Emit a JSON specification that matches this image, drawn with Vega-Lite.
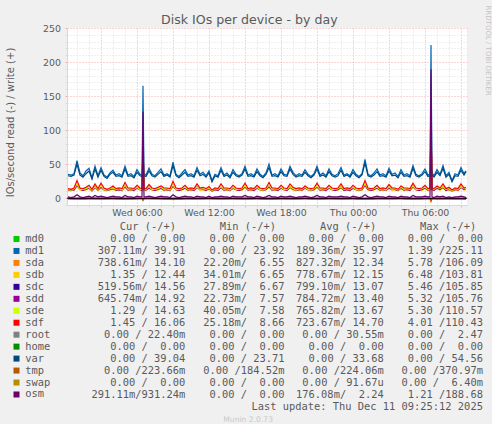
{
  "$schema": "https://vega.github.io/schema/vega-lite/v6.json",
  "description": "Munin disk IOs per device - by day",
  "background": "#f0f0f0",
  "padding": {"left": 5, "top": 5, "right": 0, "bottom": 0},
  "config": {"view": {"stroke": null}, "font": "DejaVu Sans", "axis": {"titleFontWeight": "normal"}},
  "datasets": {
    "wr": [
      {"t":"2025-12-10T00:15Z","md1":35,"var":33,"sda":12,"sdb":11,"sdc":13,"sdd":12,"sde":13,"sdf":14,"osm":2},
      {"t":"2025-12-10T00:30Z","md1":34,"var":32,"sda":11,"sdb":11,"sdc":12,"sdd":13,"sde":12,"sdf":13,"osm":1},
      {"t":"2025-12-10T00:45Z","md1":36,"var":34,"sda":12,"sdb":12,"sdc":13,"sdd":12,"sde":14,"sdf":15,"osm":2},
      {"t":"2025-12-10T01:00Z","md1":55,"var":50,"sda":18,"sdb":17,"sdc":20,"sdd":19,"sde":21,"sdf":26,"osm":5},
      {"t":"2025-12-10T01:15Z","md1":37,"var":34,"sda":13,"sdb":12,"sdc":13,"sdd":14,"sde":13,"sdf":15,"osm":2},
      {"t":"2025-12-10T01:30Z","md1":33,"var":31,"sda":12,"sdb":11,"sdc":12,"sdd":12,"sde":13,"sdf":14,"osm":1},
      {"t":"2025-12-10T01:45Z","md1":40,"var":36,"sda":13,"sdb":12,"sdc":14,"sdd":13,"sde":14,"sdf":16,"osm":2},
      {"t":"2025-12-10T02:00Z","md1":44,"var":40,"sda":15,"sdb":14,"sdc":16,"sdd":15,"sde":16,"sdf":19,"osm":3},
      {"t":"2025-12-10T02:15Z","md1":30,"var":28,"sda":11,"sdb":10,"sdc":12,"sdd":11,"sde":12,"sdf":13,"osm":1},
      {"t":"2025-12-10T02:30Z","md1":47,"var":43,"sda":16,"sdb":15,"sdc":17,"sdd":16,"sde":17,"sdf":21,"osm":4},
      {"t":"2025-12-10T02:45Z","md1":33,"var":31,"sda":12,"sdb":11,"sdc":13,"sdd":12,"sde":13,"sdf":14,"osm":2},
      {"t":"2025-12-10T03:00Z","md1":45,"var":41,"sda":16,"sdb":15,"sdc":17,"sdd":16,"sde":18,"sdf":22,"osm":3},
      {"t":"2025-12-10T03:15Z","md1":34,"var":32,"sda":12,"sdb":11,"sdc":13,"sdd":13,"sde":13,"sdf":15,"osm":2},
      {"t":"2025-12-10T03:30Z","md1":31,"var":29,"sda":11,"sdb":11,"sdc":12,"sdd":12,"sde":12,"sdf":13,"osm":1},
      {"t":"2025-12-10T03:45Z","md1":37,"var":35,"sda":13,"sdb":12,"sdc":13,"sdd":13,"sde":14,"sdf":15,"osm":2},
      {"t":"2025-12-10T04:00Z","md1":41,"var":38,"sda":14,"sdb":13,"sdc":15,"sdd":14,"sde":15,"sdf":18,"osm":3},
      {"t":"2025-12-10T04:15Z","md1":34,"var":32,"sda":12,"sdb":11,"sdc":12,"sdd":13,"sde":13,"sdf":14,"osm":2},
      {"t":"2025-12-10T04:30Z","md1":36,"var":33,"sda":12,"sdb":12,"sdc":13,"sdd":12,"sde":14,"sdf":15,"osm":2},
      {"t":"2025-12-10T04:45Z","md1":33,"var":31,"sda":11,"sdb":11,"sdc":12,"sdd":12,"sde":12,"sdf":14,"osm":1},
      {"t":"2025-12-10T05:00Z","md1":47,"var":43,"sda":17,"sdb":16,"sdc":18,"sdd":17,"sde":19,"sdf":23,"osm":4},
      {"t":"2025-12-10T05:15Z","md1":34,"var":32,"sda":12,"sdb":11,"sdc":13,"sdd":12,"sde":13,"sdf":15,"osm":2},
      {"t":"2025-12-10T05:30Z","md1":36,"var":33,"sda":13,"sdb":12,"sdc":13,"sdd":13,"sde":14,"sdf":15,"osm":2},
      {"t":"2025-12-10T05:45Z","md1":32,"var":30,"sda":11,"sdb":11,"sdc":12,"sdd":12,"sde":13,"sdf":14,"osm":1},
      {"t":"2025-12-10T06:00Z","md1":42,"var":38,"sda":15,"sdb":14,"sdc":16,"sdd":15,"sde":16,"sdf":19,"osm":3},
      {"t":"2025-12-10T06:15Z","md1":35,"var":33,"sda":12,"sdb":12,"sdc":13,"sdd":13,"sde":13,"sdf":15,"osm":2},
      {"t":"2025-12-10T06:25Z","md1":34,"var":32,"sda":12,"sdb":11,"sdc":12,"sdd":12,"sde":13,"sdf":14,"osm":2},
      {"t":"2025-12-10T06:30Z","md1":165,"var":48,"sda":72,"sdb":66,"sdc":75,"sdd":76,"sde":74,"sdf":81,"osm":127},
      {"t":"2025-12-10T06:35Z","md1":36,"var":33,"sda":13,"sdb":12,"sdc":13,"sdd":13,"sde":14,"sdf":15,"osm":2},
      {"t":"2025-12-10T06:45Z","md1":34,"var":32,"sda":12,"sdb":11,"sdc":13,"sdd":12,"sde":13,"sdf":14,"osm":2},
      {"t":"2025-12-10T07:00Z","md1":44,"var":40,"sda":15,"sdb":14,"sdc":16,"sdd":15,"sde":17,"sdf":20,"osm":3},
      {"t":"2025-12-10T07:15Z","md1":35,"var":33,"sda":12,"sdb":12,"sdc":13,"sdd":13,"sde":13,"sdf":15,"osm":2},
      {"t":"2025-12-10T07:30Z","md1":33,"var":31,"sda":12,"sdb":11,"sdc":12,"sdd":12,"sde":13,"sdf":14,"osm":1},
      {"t":"2025-12-10T07:45Z","md1":38,"var":35,"sda":13,"sdb":12,"sdc":14,"sdd":13,"sde":14,"sdf":16,"osm":2},
      {"t":"2025-12-10T08:00Z","md1":43,"var":39,"sda":14,"sdb":14,"sdc":15,"sdd":15,"sde":16,"sdf":18,"osm":3},
      {"t":"2025-12-10T08:15Z","md1":34,"var":32,"sda":12,"sdb":11,"sdc":13,"sdd":12,"sde":13,"sdf":15,"osm":2},
      {"t":"2025-12-10T08:30Z","md1":36,"var":34,"sda":12,"sdb":12,"sdc":13,"sdd":13,"sde":14,"sdf":15,"osm":2},
      {"t":"2025-12-10T08:45Z","md1":33,"var":31,"sda":11,"sdb":11,"sdc":12,"sdd":12,"sde":12,"sdf":14,"osm":1},
      {"t":"2025-12-10T09:00Z","md1":53,"var":48,"sda":18,"sdb":17,"sdc":19,"sdd":18,"sde":20,"sdf":25,"osm":5},
      {"t":"2025-12-10T09:15Z","md1":35,"var":33,"sda":12,"sdb":12,"sdc":13,"sdd":13,"sde":13,"sdf":15,"osm":2},
      {"t":"2025-12-10T09:30Z","md1":32,"var":30,"sda":11,"sdb":11,"sdc":12,"sdd":12,"sde":13,"sdf":14,"osm":1},
      {"t":"2025-12-10T09:45Z","md1":37,"var":34,"sda":13,"sdb":12,"sdc":13,"sdd":13,"sde":14,"sdf":15,"osm":2},
      {"t":"2025-12-10T10:00Z","md1":42,"var":38,"sda":15,"sdb":14,"sdc":15,"sdd":15,"sde":16,"sdf":19,"osm":3},
      {"t":"2025-12-10T10:15Z","md1":34,"var":32,"sda":12,"sdb":11,"sdc":13,"sdd":12,"sde":13,"sdf":14,"osm":2},
      {"t":"2025-12-10T10:30Z","md1":36,"var":33,"sda":12,"sdb":12,"sdc":13,"sdd":13,"sde":14,"sdf":15,"osm":2},
      {"t":"2025-12-10T10:45Z","md1":33,"var":31,"sda":11,"sdb":11,"sdc":12,"sdd":12,"sde":13,"sdf":14,"osm":1},
      {"t":"2025-12-10T11:00Z","md1":45,"var":41,"sda":16,"sdb":15,"sdc":17,"sdd":16,"sde":17,"sdf":21,"osm":3},
      {"t":"2025-12-10T11:15Z","md1":35,"var":33,"sda":12,"sdb":12,"sdc":13,"sdd":13,"sde":13,"sdf":15,"osm":2},
      {"t":"2025-12-10T11:30Z","md1":38,"var":35,"sda":13,"sdb":12,"sdc":14,"sdd":13,"sde":14,"sdf":16,"osm":2},
      {"t":"2025-12-10T11:45Z","md1":33,"var":31,"sda":12,"sdb":11,"sdc":12,"sdd":12,"sde":13,"sdf":14,"osm":1},
      {"t":"2025-12-10T12:00Z","md1":40,"var":37,"sda":14,"sdb":13,"sdc":15,"sdd":14,"sde":15,"sdf":17,"osm":3},
      {"t":"2025-12-10T12:15Z","md1":26,"var":24,"sda":10,"sdb":10,"sdc":11,"sdd":11,"sde":11,"sdf":12,"osm":1},
      {"t":"2025-12-10T12:30Z","md1":35,"var":33,"sda":12,"sdb":12,"sdc":13,"sdd":13,"sde":14,"sdf":15,"osm":2},
      {"t":"2025-12-10T12:45Z","md1":33,"var":31,"sda":12,"sdb":11,"sdc":12,"sdd":12,"sde":13,"sdf":14,"osm":2},
      {"t":"2025-12-10T13:00Z","md1":45,"var":41,"sda":16,"sdb":15,"sdc":16,"sdd":16,"sde":17,"sdf":21,"osm":3},
      {"t":"2025-12-10T13:15Z","md1":34,"var":32,"sda":12,"sdb":11,"sdc":13,"sdd":12,"sde":13,"sdf":15,"osm":2},
      {"t":"2025-12-10T13:30Z","md1":37,"var":34,"sda":13,"sdb":12,"sdc":13,"sdd":13,"sde":14,"sdf":15,"osm":2},
      {"t":"2025-12-10T13:45Z","md1":32,"var":30,"sda":11,"sdb":11,"sdc":12,"sdd":12,"sde":12,"sdf":14,"osm":1},
      {"t":"2025-12-10T14:00Z","md1":42,"var":38,"sda":15,"sdb":14,"sdc":15,"sdd":15,"sde":16,"sdf":19,"osm":3},
      {"t":"2025-12-10T14:15Z","md1":35,"var":33,"sda":12,"sdb":12,"sdc":13,"sdd":13,"sde":13,"sdf":15,"osm":2},
      {"t":"2025-12-10T14:30Z","md1":33,"var":31,"sda":12,"sdb":11,"sdc":12,"sdd":12,"sde":13,"sdf":14,"osm":2},
      {"t":"2025-12-10T14:45Z","md1":36,"var":34,"sda":12,"sdb":12,"sdc":13,"sdd":13,"sde":14,"sdf":15,"osm":2},
      {"t":"2025-12-10T15:00Z","md1":47,"var":43,"sda":17,"sdb":16,"sdc":17,"sdd":17,"sde":18,"sdf":22,"osm":4},
      {"t":"2025-12-10T15:15Z","md1":34,"var":32,"sda":12,"sdb":11,"sdc":13,"sdd":12,"sde":13,"sdf":14,"osm":2},
      {"t":"2025-12-10T15:30Z","md1":36,"var":33,"sda":13,"sdb":12,"sdc":13,"sdd":13,"sde":14,"sdf":15,"osm":2},
      {"t":"2025-12-10T15:45Z","md1":33,"var":31,"sda":11,"sdb":11,"sdc":12,"sdd":12,"sde":13,"sdf":14,"osm":1},
      {"t":"2025-12-10T16:00Z","md1":43,"var":39,"sda":15,"sdb":14,"sdc":16,"sdd":15,"sde":16,"sdf":19,"osm":3},
      {"t":"2025-12-10T16:15Z","md1":35,"var":33,"sda":12,"sdb":12,"sdc":13,"sdd":13,"sde":13,"sdf":15,"osm":2},
      {"t":"2025-12-10T16:30Z","md1":32,"var":30,"sda":11,"sdb":11,"sdc":12,"sdd":12,"sde":12,"sdf":14,"osm":1},
      {"t":"2025-12-10T16:45Z","md1":37,"var":35,"sda":13,"sdb":12,"sdc":13,"sdd":13,"sde":14,"sdf":15,"osm":2},
      {"t":"2025-12-10T17:00Z","md1":50,"var":45,"sda":17,"sdb":16,"sdc":18,"sdd":17,"sde":19,"sdf":23,"osm":4},
      {"t":"2025-12-10T17:15Z","md1":34,"var":32,"sda":12,"sdb":11,"sdc":13,"sdd":12,"sde":13,"sdf":15,"osm":2},
      {"t":"2025-12-10T17:30Z","md1":36,"var":33,"sda":12,"sdb":12,"sdc":13,"sdd":13,"sde":14,"sdf":15,"osm":2},
      {"t":"2025-12-10T17:45Z","md1":33,"var":31,"sda":12,"sdb":11,"sdc":12,"sdd":12,"sde":13,"sdf":14,"osm":1},
      {"t":"2025-12-10T18:00Z","md1":43,"var":39,"sda":15,"sdb":14,"sdc":15,"sdd":15,"sde":16,"sdf":19,"osm":3},
      {"t":"2025-12-10T18:15Z","md1":35,"var":33,"sda":12,"sdb":12,"sdc":13,"sdd":13,"sde":13,"sdf":15,"osm":2},
      {"t":"2025-12-10T18:30Z","md1":34,"var":32,"sda":12,"sdb":11,"sdc":12,"sdd":12,"sde":13,"sdf":14,"osm":2},
      {"t":"2025-12-10T18:45Z","md1":47,"var":43,"sda":16,"sdb":15,"sdc":17,"sdd":16,"sde":17,"sdf":21,"osm":3},
      {"t":"2025-12-10T19:00Z","md1":38,"var":35,"sda":13,"sdb":12,"sdc":14,"sdd":13,"sde":14,"sdf":16,"osm":2},
      {"t":"2025-12-10T19:15Z","md1":33,"var":31,"sda":11,"sdb":11,"sdc":12,"sdd":12,"sde":12,"sdf":14,"osm":1},
      {"t":"2025-12-10T19:30Z","md1":36,"var":33,"sda":12,"sdb":12,"sdc":13,"sdd":13,"sde":14,"sdf":15,"osm":2},
      {"t":"2025-12-10T19:45Z","md1":34,"var":32,"sda":12,"sdb":11,"sdc":13,"sdd":12,"sde":13,"sdf":14,"osm":2},
      {"t":"2025-12-10T20:00Z","md1":42,"var":38,"sda":15,"sdb":14,"sdc":15,"sdd":15,"sde":16,"sdf":18,"osm":3},
      {"t":"2025-12-10T20:15Z","md1":35,"var":33,"sda":12,"sdb":12,"sdc":13,"sdd":13,"sde":13,"sdf":15,"osm":2},
      {"t":"2025-12-10T20:30Z","md1":32,"var":30,"sda":11,"sdb":11,"sdc":12,"sdd":12,"sde":12,"sdf":14,"osm":1},
      {"t":"2025-12-10T20:45Z","md1":36,"var":34,"sda":12,"sdb":12,"sdc":13,"sdd":13,"sde":14,"sdf":15,"osm":2},
      {"t":"2025-12-10T21:00Z","md1":47,"var":43,"sda":17,"sdb":16,"sdc":17,"sdd":17,"sde":18,"sdf":22,"osm":4},
      {"t":"2025-12-10T21:15Z","md1":34,"var":32,"sda":12,"sdb":11,"sdc":13,"sdd":12,"sde":13,"sdf":15,"osm":2},
      {"t":"2025-12-10T21:30Z","md1":37,"var":34,"sda":13,"sdb":12,"sdc":13,"sdd":13,"sde":14,"sdf":15,"osm":2},
      {"t":"2025-12-10T21:45Z","md1":33,"var":31,"sda":11,"sdb":11,"sdc":12,"sdd":12,"sde":13,"sdf":14,"osm":1},
      {"t":"2025-12-10T22:00Z","md1":43,"var":39,"sda":15,"sdb":14,"sdc":16,"sdd":15,"sde":16,"sdf":19,"osm":3},
      {"t":"2025-12-10T22:15Z","md1":35,"var":33,"sda":12,"sdb":12,"sdc":13,"sdd":13,"sde":13,"sdf":15,"osm":2},
      {"t":"2025-12-10T22:30Z","md1":33,"var":31,"sda":12,"sdb":11,"sdc":12,"sdd":12,"sde":13,"sdf":14,"osm":2},
      {"t":"2025-12-10T22:45Z","md1":36,"var":33,"sda":12,"sdb":12,"sdc":13,"sdd":13,"sde":14,"sdf":15,"osm":2},
      {"t":"2025-12-10T23:00Z","md1":45,"var":41,"sda":16,"sdb":15,"sdc":17,"sdd":16,"sde":17,"sdf":21,"osm":3},
      {"t":"2025-12-10T23:15Z","md1":34,"var":32,"sda":12,"sdb":11,"sdc":12,"sdd":12,"sde":13,"sdf":14,"osm":2},
      {"t":"2025-12-10T23:30Z","md1":36,"var":34,"sda":13,"sdb":12,"sdc":13,"sdd":13,"sde":14,"sdf":15,"osm":2},
      {"t":"2025-12-10T23:45Z","md1":33,"var":31,"sda":11,"sdb":11,"sdc":12,"sdd":12,"sde":13,"sdf":14,"osm":1},
      {"t":"2025-12-11T00:00Z","md1":42,"var":38,"sda":15,"sdb":14,"sdc":15,"sdd":15,"sde":16,"sdf":19,"osm":3},
      {"t":"2025-12-11T00:15Z","md1":35,"var":33,"sda":12,"sdb":12,"sdc":13,"sdd":13,"sde":13,"sdf":15,"osm":2},
      {"t":"2025-12-11T00:30Z","md1":32,"var":30,"sda":11,"sdb":11,"sdc":12,"sdd":12,"sde":12,"sdf":14,"osm":1},
      {"t":"2025-12-11T00:45Z","md1":36,"var":34,"sda":12,"sdb":12,"sdc":13,"sdd":13,"sde":14,"sdf":15,"osm":2},
      {"t":"2025-12-11T01:00Z","md1":57,"var":52,"sda":19,"sdb":18,"sdc":20,"sdd":19,"sde":21,"sdf":26,"osm":5},
      {"t":"2025-12-11T01:15Z","md1":35,"var":33,"sda":12,"sdb":12,"sdc":13,"sdd":13,"sde":14,"sdf":15,"osm":2},
      {"t":"2025-12-11T01:30Z","md1":33,"var":31,"sda":12,"sdb":11,"sdc":12,"sdd":12,"sde":13,"sdf":14,"osm":1},
      {"t":"2025-12-11T01:45Z","md1":37,"var":34,"sda":13,"sdb":12,"sdc":13,"sdd":13,"sde":14,"sdf":15,"osm":2},
      {"t":"2025-12-11T02:00Z","md1":43,"var":39,"sda":15,"sdb":14,"sdc":16,"sdd":15,"sde":16,"sdf":19,"osm":3},
      {"t":"2025-12-11T02:15Z","md1":34,"var":32,"sda":12,"sdb":11,"sdc":13,"sdd":12,"sde":13,"sdf":14,"osm":2},
      {"t":"2025-12-11T02:30Z","md1":36,"var":33,"sda":12,"sdb":12,"sdc":13,"sdd":13,"sde":14,"sdf":15,"osm":2},
      {"t":"2025-12-11T02:45Z","md1":33,"var":31,"sda":11,"sdb":11,"sdc":12,"sdd":12,"sde":12,"sdf":14,"osm":1},
      {"t":"2025-12-11T03:00Z","md1":44,"var":40,"sda":15,"sdb":14,"sdc":16,"sdd":15,"sde":17,"sdf":20,"osm":3},
      {"t":"2025-12-11T03:15Z","md1":35,"var":33,"sda":12,"sdb":12,"sdc":13,"sdd":13,"sde":13,"sdf":15,"osm":2},
      {"t":"2025-12-11T03:30Z","md1":37,"var":34,"sda":13,"sdb":12,"sdc":13,"sdd":13,"sde":14,"sdf":15,"osm":2},
      {"t":"2025-12-11T03:45Z","md1":32,"var":30,"sda":11,"sdb":11,"sdc":12,"sdd":12,"sde":12,"sdf":13,"osm":1},
      {"t":"2025-12-11T04:00Z","md1":42,"var":38,"sda":14,"sdb":14,"sdc":15,"sdd":15,"sde":16,"sdf":18,"osm":3},
      {"t":"2025-12-11T04:15Z","md1":34,"var":32,"sda":12,"sdb":11,"sdc":13,"sdd":12,"sde":13,"sdf":15,"osm":2},
      {"t":"2025-12-11T04:30Z","md1":36,"var":33,"sda":12,"sdb":12,"sdc":13,"sdd":13,"sde":14,"sdf":15,"osm":2},
      {"t":"2025-12-11T04:45Z","md1":33,"var":31,"sda":12,"sdb":11,"sdc":12,"sdd":12,"sde":13,"sdf":14,"osm":1},
      {"t":"2025-12-11T05:00Z","md1":48,"var":44,"sda":17,"sdb":16,"sdc":18,"sdd":17,"sde":18,"sdf":22,"osm":4},
      {"t":"2025-12-11T05:15Z","md1":35,"var":33,"sda":12,"sdb":12,"sdc":13,"sdd":13,"sde":13,"sdf":15,"osm":2},
      {"t":"2025-12-11T05:30Z","md1":33,"var":31,"sda":12,"sdb":11,"sdc":12,"sdd":12,"sde":13,"sdf":14,"osm":2},
      {"t":"2025-12-11T05:45Z","md1":36,"var":34,"sda":12,"sdb":12,"sdc":13,"sdd":13,"sde":14,"sdf":15,"osm":2},
      {"t":"2025-12-11T06:00Z","md1":43,"var":39,"sda":15,"sdb":14,"sdc":16,"sdd":15,"sde":16,"sdf":19,"osm":3},
      {"t":"2025-12-11T06:15Z","md1":34,"var":32,"sda":12,"sdb":11,"sdc":13,"sdd":12,"sde":13,"sdf":14,"osm":2},
      {"t":"2025-12-11T06:25Z","md1":35,"var":33,"sda":12,"sdb":12,"sdc":13,"sdd":13,"sde":13,"sdf":15,"osm":2},
      {"t":"2025-12-11T06:30Z","md1":225,"var":54,"sda":106,"sdb":104,"sdc":106,"sdd":106,"sde":110,"sdf":110,"osm":189},
      {"t":"2025-12-11T06:35Z","md1":37,"var":34,"sda":13,"sdb":12,"sdc":13,"sdd":13,"sde":14,"sdf":15,"osm":2},
      {"t":"2025-12-11T06:45Z","md1":33,"var":31,"sda":12,"sdb":11,"sdc":12,"sdd":12,"sde":13,"sdf":14,"osm":1},
      {"t":"2025-12-11T07:00Z","md1":42,"var":38,"sda":15,"sdb":14,"sdc":15,"sdd":15,"sde":16,"sdf":18,"osm":3},
      {"t":"2025-12-11T07:15Z","md1":35,"var":33,"sda":12,"sdb":12,"sdc":13,"sdd":13,"sde":14,"sdf":15,"osm":2},
      {"t":"2025-12-11T07:30Z","md1":48,"var":44,"sda":16,"sdb":15,"sdc":17,"sdd":16,"sde":17,"sdf":21,"osm":3},
      {"t":"2025-12-11T07:45Z","md1":33,"var":31,"sda":11,"sdb":11,"sdc":12,"sdd":12,"sde":13,"sdf":14,"osm":1},
      {"t":"2025-12-11T08:00Z","md1":38,"var":35,"sda":13,"sdb":12,"sdc":14,"sdd":13,"sde":14,"sdf":16,"osm":2},
      {"t":"2025-12-11T08:15Z","md1":26,"var":24,"sda":10,"sdb":10,"sdc":11,"sdd":11,"sde":11,"sdf":12,"osm":1},
      {"t":"2025-12-11T08:30Z","md1":36,"var":33,"sda":12,"sdb":12,"sdc":13,"sdd":13,"sde":14,"sdf":15,"osm":2},
      {"t":"2025-12-11T08:45Z","md1":34,"var":32,"sda":12,"sdb":11,"sdc":13,"sdd":12,"sde":13,"sdf":14,"osm":2},
      {"t":"2025-12-11T09:00Z","md1":45,"var":41,"sda":16,"sdb":15,"sdc":17,"sdd":16,"sde":17,"sdf":21,"osm":3},
      {"t":"2025-12-11T09:15Z","md1":36,"var":34,"sda":13,"sdb":12,"sdc":13,"sdd":13,"sde":14,"sdf":15,"osm":2},
      {"t":"2025-12-11T09:25Z","md1":40,"var":39,"sda":14.1,"sdb":12.4,"sdc":14.6,"sdd":14.9,"sde":14.6,"sdf":16.1,"osm":0.9}
    ],
    "rd": [
      {"t":"2025-12-10T00:15Z","md1":-0.2,"sda":-0.7,"sdb":-0.8,"sdc":-0.6,"sdd":-0.7,"sde":-0.8,"sdf":-0.6,"osm":-0.2},
      {"t":"2025-12-10T01:00Z","md1":-0.3,"sda":-1.5,"sdb":-1.8,"sdc":-1.4,"sdd":-1.3,"sde":-1.6,"sdf":-1.2,"osm":-0.3},
      {"t":"2025-12-10T02:00Z","md1":-0.1,"sda":-0.8,"sdb":-0.9,"sdc":-0.7,"sdd":-0.8,"sde":-0.7,"sdf":-0.7,"osm":-0.1},
      {"t":"2025-12-10T03:00Z","md1":-0.2,"sda":-1.1,"sdb":-1.2,"sdc":-1.0,"sdd":-0.9,"sde":-1.0,"sdf":-0.8,"osm":-0.2},
      {"t":"2025-12-10T04:00Z","md1":-0.2,"sda":-0.7,"sdb":-0.6,"sdc":-0.8,"sdd":-0.7,"sde":-0.6,"sdf":-0.6,"osm":-0.1},
      {"t":"2025-12-10T05:00Z","md1":-0.3,"sda":-1.4,"sdb":-1.6,"sdc":-1.2,"sdd":-1.3,"sde":-1.2,"sdf":-1.0,"osm":-0.3},
      {"t":"2025-12-10T06:00Z","md1":-0.2,"sda":-0.8,"sdb":-0.9,"sdc":-0.8,"sdd":-0.7,"sde":-0.8,"sdf":-0.7,"osm":-0.2},
      {"t":"2025-12-10T06:25Z","md1":-0.2,"sda":-0.7,"sdb":-0.8,"sdc":-0.7,"sdd":-0.7,"sde":-0.7,"sdf":-0.6,"osm":-0.2},
      {"t":"2025-12-10T06:30Z","md1":-1.0,"sda":-4.2,"sdb":-4.6,"sdc":-3.6,"sdd":-3.4,"sde":-3.8,"sdf":-3.0,"osm":-0.8},
      {"t":"2025-12-10T06:35Z","md1":-0.2,"sda":-0.8,"sdb":-0.8,"sdc":-0.7,"sdd":-0.8,"sde":-0.7,"sdf":-0.6,"osm":-0.2},
      {"t":"2025-12-10T07:00Z","md1":-0.1,"sda":-0.7,"sdb":-0.8,"sdc":-0.7,"sdd":-0.6,"sde":-0.7,"sdf":-0.6,"osm":-0.1},
      {"t":"2025-12-10T08:00Z","md1":-0.2,"sda":-0.9,"sdb":-1.0,"sdc":-0.8,"sdd":-0.9,"sde":-0.8,"sdf":-0.7,"osm":-0.2},
      {"t":"2025-12-10T09:00Z","md1":-0.4,"sda":-2.0,"sdb":-2.3,"sdc":-1.8,"sdd":-1.9,"sde":-1.7,"sdf":-1.6,"osm":-0.4},
      {"t":"2025-12-10T10:00Z","md1":-0.2,"sda":-0.8,"sdb":-0.7,"sdc":-0.8,"sdd":-0.8,"sde":-0.7,"sdf":-0.7,"osm":-0.2},
      {"t":"2025-12-10T11:00Z","md1":-0.2,"sda":-1.0,"sdb":-1.1,"sdc":-0.9,"sdd":-1.0,"sde":-1.0,"sdf":-0.8,"osm":-0.2},
      {"t":"2025-12-10T12:00Z","md1":-0.1,"sda":-0.7,"sdb":-0.8,"sdc":-0.7,"sdd":-0.7,"sde":-0.6,"sdf":-0.6,"osm":-0.1},
      {"t":"2025-12-10T13:00Z","md1":-0.2,"sda":-1.1,"sdb":-1.2,"sdc":-1.0,"sdd":-1.0,"sde":-1.1,"sdf":-0.9,"osm":-0.2},
      {"t":"2025-12-10T14:00Z","md1":-0.2,"sda":-0.8,"sdb":-0.8,"sdc":-0.8,"sdd":-0.7,"sde":-0.8,"sdf":-0.7,"osm":-0.2},
      {"t":"2025-12-10T15:00Z","md1":-0.3,"sda":-1.3,"sdb":-1.5,"sdc":-1.2,"sdd":-1.1,"sde":-1.2,"sdf":-1.0,"osm":-0.2},
      {"t":"2025-12-10T16:00Z","md1":-0.2,"sda":-0.7,"sdb":-0.8,"sdc":-0.7,"sdd":-0.8,"sde":-0.7,"sdf":-0.6,"osm":-0.1},
      {"t":"2025-12-10T17:00Z","md1":-0.3,"sda":-1.6,"sdb":-1.7,"sdc":-1.4,"sdd":-1.5,"sde":-1.3,"sdf":-1.2,"osm":-0.3},
      {"t":"2025-12-10T18:00Z","md1":-0.2,"sda":-0.8,"sdb":-0.9,"sdc":-0.8,"sdd":-0.8,"sde":-0.8,"sdf":-0.7,"osm":-0.2},
      {"t":"2025-12-10T19:00Z","md1":-0.2,"sda":-1.2,"sdb":-1.3,"sdc":-1.1,"sdd":-1.0,"sde":-1.1,"sdf":-0.9,"osm":-0.2},
      {"t":"2025-12-10T20:00Z","md1":-0.1,"sda":-0.7,"sdb":-0.7,"sdc":-0.7,"sdd":-0.7,"sde":-0.6,"sdf":-0.6,"osm":-0.1},
      {"t":"2025-12-10T21:00Z","md1":-0.3,"sda":-1.4,"sdb":-1.6,"sdc":-1.3,"sdd":-1.2,"sde":-1.3,"sdf":-1.1,"osm":-0.3},
      {"t":"2025-12-10T22:00Z","md1":-0.2,"sda":-0.8,"sdb":-0.9,"sdc":-0.8,"sdd":-0.7,"sde":-0.8,"sdf":-0.7,"osm":-0.2},
      {"t":"2025-12-10T23:00Z","md1":-0.2,"sda":-1.1,"sdb":-1.2,"sdc":-1.0,"sdd":-1.0,"sde":-1.0,"sdf":-0.9,"osm":-0.2},
      {"t":"2025-12-11T00:00Z","md1":-0.2,"sda":-0.8,"sdb":-0.8,"sdc":-0.7,"sdd":-0.8,"sde":-0.7,"sdf":-0.7,"osm":-0.2},
      {"t":"2025-12-11T01:00Z","md1":-0.4,"sda":-1.8,"sdb":-2.0,"sdc":-1.6,"sdd":-1.7,"sde":-1.5,"sdf":-1.4,"osm":-0.4},
      {"t":"2025-12-11T02:00Z","md1":-0.2,"sda":-0.8,"sdb":-0.9,"sdc":-0.8,"sdd":-0.8,"sde":-0.8,"sdf":-0.7,"osm":-0.2},
      {"t":"2025-12-11T03:00Z","md1":-0.2,"sda":-1.0,"sdb":-1.1,"sdc":-0.9,"sdd":-0.9,"sde":-1.0,"sdf":-0.8,"osm":-0.2},
      {"t":"2025-12-11T04:00Z","md1":-0.1,"sda":-0.7,"sdb":-0.8,"sdc":-0.7,"sdd":-0.7,"sde":-0.7,"sdf":-0.6,"osm":-0.1},
      {"t":"2025-12-11T05:00Z","md1":-0.3,"sda":-1.5,"sdb":-1.7,"sdc":-1.3,"sdd":-1.4,"sde":-1.3,"sdf":-1.1,"osm":-0.3},
      {"t":"2025-12-11T06:00Z","md1":-0.2,"sda":-0.8,"sdb":-0.9,"sdc":-0.8,"sdd":-0.8,"sde":-0.8,"sdf":-0.7,"osm":-0.2},
      {"t":"2025-12-11T06:25Z","md1":-0.2,"sda":-0.7,"sdb":-0.8,"sdc":-0.7,"sdd":-0.7,"sde":-0.7,"sdf":-0.6,"osm":-0.2},
      {"t":"2025-12-11T06:30Z","md1":-1.4,"sda":-5.8,"sdb":-6.5,"sdc":-5.5,"sdd":-5.3,"sde":-5.3,"sdf":-4.0,"osm":-1.2},
      {"t":"2025-12-11T06:35Z","md1":-0.2,"sda":-0.8,"sdb":-0.8,"sdc":-0.8,"sdd":-0.7,"sde":-0.8,"sdf":-0.7,"osm":-0.2},
      {"t":"2025-12-11T07:00Z","md1":-0.2,"sda":-1.1,"sdb":-1.2,"sdc":-1.0,"sdd":-1.0,"sde":-0.9,"sdf":-0.8,"osm":-0.2},
      {"t":"2025-12-11T08:00Z","md1":-0.2,"sda":-0.9,"sdb":-1.0,"sdc":-0.8,"sdd":-0.9,"sde":-0.8,"sdf":-0.7,"osm":-0.2},
      {"t":"2025-12-11T09:00Z","md1":-0.3,"sda":-1.3,"sdb":-1.4,"sdc":-1.2,"sdd":-1.1,"sde":-1.2,"sdf":-1.0,"osm":-0.3},
      {"t":"2025-12-11T09:25Z","md1":-0.3,"sda":-0.7,"sdb":-1.4,"sdc":-0.5,"sdd":-0.6,"sde":-1.3,"sdf":-1.5,"osm":-0.3}
    ],
    "zero": [{"v": 0}],
    "tbl": [
      {"dev":"md0","Cur":"\u00a0\u00a00.00\u00a0/\u00a0\u00a00.00\u00a0","Min":"\u00a0\u00a00.00\u00a0/\u00a0\u00a00.00\u00a0","Avg":"\u00a0\u00a00.00\u00a0/\u00a0\u00a00.00\u00a0","Max":"\u00a0\u00a00.00\u00a0/\u00a0\u00a00.00\u00a0"},
      {"dev":"md1","Cur":"307.11m/\u00a039.91\u00a0","Min":"\u00a0\u00a00.00\u00a0/\u00a023.92\u00a0","Avg":"189.36m/\u00a035.97\u00a0","Max":"\u00a0\u00a01.39\u00a0/225.11\u00a0"},
      {"dev":"sda","Cur":"738.61m/\u00a014.10\u00a0","Min":"\u00a022.20m/\u00a0\u00a06.55\u00a0","Avg":"827.32m/\u00a012.34\u00a0","Max":"\u00a0\u00a05.78\u00a0/106.09\u00a0"},
      {"dev":"sdb","Cur":"\u00a0\u00a01.35\u00a0/\u00a012.44\u00a0","Min":"\u00a034.01m/\u00a0\u00a06.65\u00a0","Avg":"778.67m/\u00a012.15\u00a0","Max":"\u00a0\u00a06.48\u00a0/103.81\u00a0"},
      {"dev":"sdc","Cur":"519.56m/\u00a014.56\u00a0","Min":"\u00a027.89m/\u00a0\u00a06.67\u00a0","Avg":"799.10m/\u00a013.07\u00a0","Max":"\u00a0\u00a05.46\u00a0/105.85\u00a0"},
      {"dev":"sdd","Cur":"645.74m/\u00a014.92\u00a0","Min":"\u00a022.73m/\u00a0\u00a07.57\u00a0","Avg":"784.72m/\u00a013.40\u00a0","Max":"\u00a0\u00a05.32\u00a0/105.76\u00a0"},
      {"dev":"sde","Cur":"\u00a0\u00a01.29\u00a0/\u00a014.63\u00a0","Min":"\u00a040.05m/\u00a0\u00a07.58\u00a0","Avg":"765.82m/\u00a013.67\u00a0","Max":"\u00a0\u00a05.30\u00a0/110.57\u00a0"},
      {"dev":"sdf","Cur":"\u00a0\u00a01.45\u00a0/\u00a016.06\u00a0","Min":"\u00a025.18m/\u00a0\u00a08.66\u00a0","Avg":"723.67m/\u00a014.70\u00a0","Max":"\u00a0\u00a04.01\u00a0/110.43\u00a0"},
      {"dev":"root","Cur":"\u00a0\u00a00.00\u00a0/\u00a022.40m","Min":"\u00a0\u00a00.00\u00a0/\u00a0\u00a00.00\u00a0","Avg":"\u00a0\u00a00.00\u00a0/\u00a030.55m","Max":"\u00a0\u00a00.00\u00a0/\u00a0\u00a02.47\u00a0"},
      {"dev":"home","Cur":"\u00a0\u00a00.00\u00a0/\u00a0\u00a00.00\u00a0","Min":"\u00a0\u00a00.00\u00a0/\u00a0\u00a00.00\u00a0","Avg":"\u00a0\u00a00.00\u00a0/\u00a0\u00a00.00\u00a0","Max":"\u00a0\u00a00.00\u00a0/\u00a0\u00a00.00\u00a0"},
      {"dev":"var","Cur":"\u00a0\u00a00.00\u00a0/\u00a039.04\u00a0","Min":"\u00a0\u00a00.00\u00a0/\u00a023.71\u00a0","Avg":"\u00a0\u00a00.00\u00a0/\u00a033.68\u00a0","Max":"\u00a0\u00a00.00\u00a0/\u00a054.56\u00a0"},
      {"dev":"tmp","Cur":"\u00a0\u00a00.00\u00a0/223.66m","Min":"\u00a0\u00a00.00\u00a0/184.52m","Avg":"\u00a0\u00a00.00\u00a0/224.06m","Max":"\u00a0\u00a00.00\u00a0/370.97m"},
      {"dev":"swap","Cur":"\u00a0\u00a00.00\u00a0/\u00a0\u00a00.00\u00a0","Min":"\u00a0\u00a00.00\u00a0/\u00a0\u00a00.00\u00a0","Avg":"\u00a0\u00a00.00\u00a0/\u00a091.67u","Max":"\u00a0\u00a00.00\u00a0/\u00a0\u00a06.40m"},
      {"dev":"osm","Cur":"291.11m/931.24m","Min":"\u00a0\u00a00.00\u00a0/\u00a0\u00a00.00\u00a0","Avg":"176.08m/\u00a0\u00a02.24\u00a0","Max":"\u00a0\u00a01.21\u00a0/188.68\u00a0"}
    ],
    "notes": [
      {"row":"head","col":"Max","text":"Cur\u00a0(-/+)\u00a0\u00a0\u00a0\u00a0\u00a0\u00a0\u00a0Min\u00a0(-/+)\u00a0\u00a0\u00a0\u00a0\u00a0\u00a0\u00a0Avg\u00a0(-/+)\u00a0\u00a0\u00a0\u00a0\u00a0\u00a0\u00a0Max\u00a0(-/+)"},
      {"row":"upd","col":"Max","text":"Last update: Thu Dec 11 09:25:12 2025"},
      {"row":"ver","col":"Min","text":"Munin 2.0.73"}
    ]
  },
  "vconcat": [
    {
      "width": 400,
      "height": 177,
      "view": {"fill": "#ffffff", "stroke": null},
      "resolve": {"axis": {"x": "independent", "y": "independent"}},
      "layer": [
        {
          "data": {"name": "rd"},
          "transform": [{"fold": ["md1", "sda", "sdb", "sdc", "sdd", "sde", "sdf", "osm"], "as": ["dev", "v"]}],
          "mark": {"type": "line", "strokeWidth": 1},
          "encoding": {
            "x": {
              "field": "t", "type": "temporal",
              "scale": {"type": "utc", "domain": [1765325400000, 1765445400000]},
              "axis": {
                "orient": "bottom", "title": null,
                "values": [1765328400000, 1765332000000, 1765335600000, 1765339200000, 1765342800000, 1765346400000, 1765350000000, 1765353600000, 1765357200000, 1765360800000, 1765364400000, 1765368000000, 1765371600000, 1765375200000, 1765378800000, 1765382400000, 1765386000000, 1765389600000, 1765393200000, 1765396800000, 1765400400000, 1765404000000, 1765407600000, 1765411200000, 1765414800000, 1765418400000, 1765422000000, 1765425600000, 1765429200000, 1765432800000, 1765436400000, 1765440000000, 1765443600000],
                "labelExpr": "utchours(datum.value) % 6 === 0 ? utcFormat(datum.value, '%a %H:%M') : ''",
                "labelOverlap": false, "labelFlush": false, "labelBound": false,
                "labelFont": "DejaVu Sans", "labelFontSize": 9.4, "labelColor": "#5a5a5a", "labelPadding": 1,
                "grid": true, "gridDash": [1, 2],
                "gridColor": {"condition": {"test": "utchours(datum.value) % 3 === 0", "value": "#f0adad"}, "value": "#dfdfdf"},
                "tickSize": 2,
                "tickColor": {"condition": {"test": "utchours(datum.value) % 3 === 0", "value": "#f0adad"}, "value": "#dfdfdf"},
                "domainColor": "#cfd6f8"
              }
            },
            "y": {
              "field": "v", "type": "quantitative",
              "scale": {"domain": [-10, 250], "nice": false, "zero": false},
              "axis": {
                "orient": "left",
                "title": "IOs/second read (-) / write (+)",
                "titleFont": "DejaVu Sans", "titleFontSize": 10, "titleColor": "#5a5a5a",
                "titleX": -56.7, "titleY": 94, "titleAngle": -90, "titleAlign": "center", "titleBaseline": "middle",
                "values": [-10, 0, 10, 20, 30, 40, 50, 60, 70, 80, 90, 100, 110, 120, 130, 140, 150, 160, 170, 180, 190, 200, 210, 220, 230, 240, 250],
                "labelExpr": "datum.value % 50 === 0 ? datum.label : ''",
                "labelFont": "DejaVu Sans", "labelFontSize": 9.4, "labelColor": "#5a5a5a", "labelPadding": 4.5,
                "grid": true, "gridDash": [1, 2],
                "gridColor": {"condition": {"test": "datum.value % 50 === 0", "value": "#f0adad"}, "value": "#dfdfdf"},
                "tickSize": 2,
                "tickColor": {"condition": {"test": "datum.value % 50 === 0", "value": "#f0adad"}, "value": "#dfdfdf"},
                "domainColor": "#cfd6f8"
              }
            },
            "color": {
              "field": "dev", "type": "nominal",
              "scale": {
                "domain": ["md0", "md1", "sda", "sdb", "sdc", "sdd", "sde", "sdf", "root", "home", "var", "tmp", "swap", "osm"],
                "range": ["#00cc00", "#0066b3", "#ff8000", "#ffcc00", "#330099", "#990099", "#ccff00", "#ff0000", "#808080", "#008f00", "#00487d", "#b35a00", "#b38f00", "#6b006b"]
              },
              "legend": null
            }
          }
        },
        {
          "data": {"name": "wr"},
          "transform": [{"fold": ["md1"], "as": ["dev", "v"]}],
          "mark": {"type": "line", "strokeWidth": 1.2},
          "encoding": {
            "x": {"field": "t", "type": "temporal", "axis": null},
            "y": {"field": "v", "type": "quantitative", "axis": null},
            "color": {"field": "dev", "type": "nominal", "legend": null}
          }
        },
        {
          "data": {"name": "wr"},
          "transform": [{"fold": ["sda", "sdb", "sdc", "sdd", "sde", "sdf"], "as": ["dev", "v"]}],
          "mark": {"type": "line", "strokeWidth": 1.2},
          "encoding": {
            "x": {"field": "t", "type": "temporal", "axis": null},
            "y": {"field": "v", "type": "quantitative", "axis": null},
            "color": {"field": "dev", "type": "nominal", "legend": null}
          }
        },
        {
          "data": {"name": "wr"},
          "transform": [{"fold": ["var"], "as": ["dev", "v"]}],
          "mark": {"type": "line", "strokeWidth": 1.2},
          "encoding": {
            "x": {
              "field": "t", "type": "temporal",
              "axis": {
                "orient": "top", "title": "Disk IOs per device - by day",
                "domain": false, "ticks": false, "labels": false, "grid": false,
                "titleFont": "DejaVu Sans", "titleFontSize": 12.6, "titleColor": "#5a5a5a",
                "titleX": 181.8, "titleY": -9, "titleAlign": "center", "titleBaseline": "middle"
              }
            },
            "y": {
              "field": "v", "type": "quantitative",
              "axis": {
                "orient": "right", "title": "RRDTOOL / TOBI OETIKER",
                "domain": false, "ticks": false, "labels": false, "grid": false,
                "titleFont": "DejaVu Sans", "titleFontSize": 7, "titleColor": "#c4c4c4",
                "titleAngle": 90, "titleX": 20.3, "titleY": -23, "titleAlign": "left", "titleBaseline": "middle"
              }
            },
            "color": {"field": "dev", "type": "nominal", "legend": null}
          }
        },
        {
          "data": {"name": "zero"},
          "mark": {"type": "rule", "color": "#000000", "strokeWidth": 1},
          "encoding": {"y": {"field": "v", "type": "quantitative", "axis": null}}
        },
        {
          "data": {"name": "wr"},
          "transform": [{"fold": ["osm"], "as": ["dev", "v"]}],
          "mark": {"type": "line", "strokeWidth": 1.2},
          "encoding": {
            "x": {"field": "t", "type": "temporal", "axis": null},
            "y": {"field": "v", "type": "quantitative", "axis": null},
            "color": {"field": "dev", "type": "nominal", "legend": null}
          }
        }
      ]
    },
    {
      "width": 415.9,
      "height": 192.5,
      "layer": [
        {
          "data": {"name": "tbl"},
          "mark": {"type": "square", "opacity": 0},
          "encoding": {
            "y": {
              "field": "dev", "type": "nominal",
              "scale": {"type": "point", "padding": 0, "domain": ["head", "md0", "md1", "sda", "sdb", "sdc", "sdd", "sde", "sdf", "root", "home", "var", "tmp", "swap", "osm", "upd", "ver"]},
              "axis": null
            },
            "color": {
              "field": "dev", "type": "nominal",
              "scale": {
                "domain": ["md0", "md1", "sda", "sdb", "sdc", "sdd", "sde", "sdf", "root", "home", "var", "tmp", "swap", "osm"],
                "range": ["#00cc00", "#0066b3", "#ff8000", "#ffcc00", "#330099", "#990099", "#ccff00", "#ff0000", "#808080", "#008f00", "#00487d", "#b35a00", "#b38f00", "#6b006b"]
              },
              "legend": {
                "orient": "none", "legendX": -55.7, "legendY": 6.8, "title": null, "padding": 0,
                "direction": "vertical", "symbolType": "square", "symbolSize": 36, "symbolStrokeWidth": 0, "symbolOpacity": 1,
                "labelFont": "DejaVu Sans Mono", "labelFontSize": 10.4, "labelColor": "#5a5a5a", "labelOffset": 3.5, "rowPadding": 0.96
              }
            }
          }
        },
        {
          "data": {"name": "tbl"},
          "transform": [{"fold": ["Cur", "Min", "Avg", "Max"], "as": ["col", "text"]}],
          "mark": {"type": "text", "align": "right", "baseline": "middle", "font": "DejaVu Sans Mono", "fontSize": 10.4, "color": "#5a5a5a"},
          "encoding": {
            "x": {"field": "col", "type": "nominal", "scale": {"type": "point", "domain": ["Cur", "Min", "Avg", "Max"], "padding": 0.596, "align": 1}, "axis": null},
            "y": {"field": "dev", "type": "nominal", "axis": null},
            "text": {"field": "text"}
          }
        },
        {
          "data": {"name": "notes"},
          "transform": [{"filter": "datum.row === 'head'"}],
          "mark": {"type": "text", "align": "right", "baseline": "middle", "dx": -6.6, "font": "DejaVu Sans Mono", "fontSize": 10.4, "color": "#5a5a5a"},
          "encoding": {
            "x": {"field": "col", "type": "nominal", "axis": null},
            "y": {"field": "row", "type": "nominal", "axis": null},
            "text": {"field": "text"}
          }
        },
        {
          "data": {"name": "notes"},
          "transform": [{"filter": "datum.row === 'upd'"}],
          "mark": {"type": "text", "align": "right", "baseline": "middle", "font": "DejaVu Sans Mono", "fontSize": 10.4, "color": "#5a5a5a"},
          "encoding": {
            "x": {"field": "col", "type": "nominal", "axis": null},
            "y": {"field": "row", "type": "nominal", "axis": null},
            "text": {"field": "text"}
          }
        },
        {
          "data": {"name": "notes"},
          "transform": [{"filter": "datum.row === 'ver'"}],
          "mark": {"type": "text", "align": "right", "baseline": "middle", "dx": -11.5, "font": "DejaVu Sans", "fontSize": 7.6, "color": "#c8c8c8"},
          "encoding": {
            "x": {"field": "col", "type": "nominal", "axis": null},
            "y": {"field": "row", "type": "nominal", "axis": null},
            "text": {"field": "text"}
          }
        }
      ]
    }
  ],
  "spacing": 5,
  "resolve": {"scale": {"color": "independent"}, "legend": {"color": "independent"}}
}
